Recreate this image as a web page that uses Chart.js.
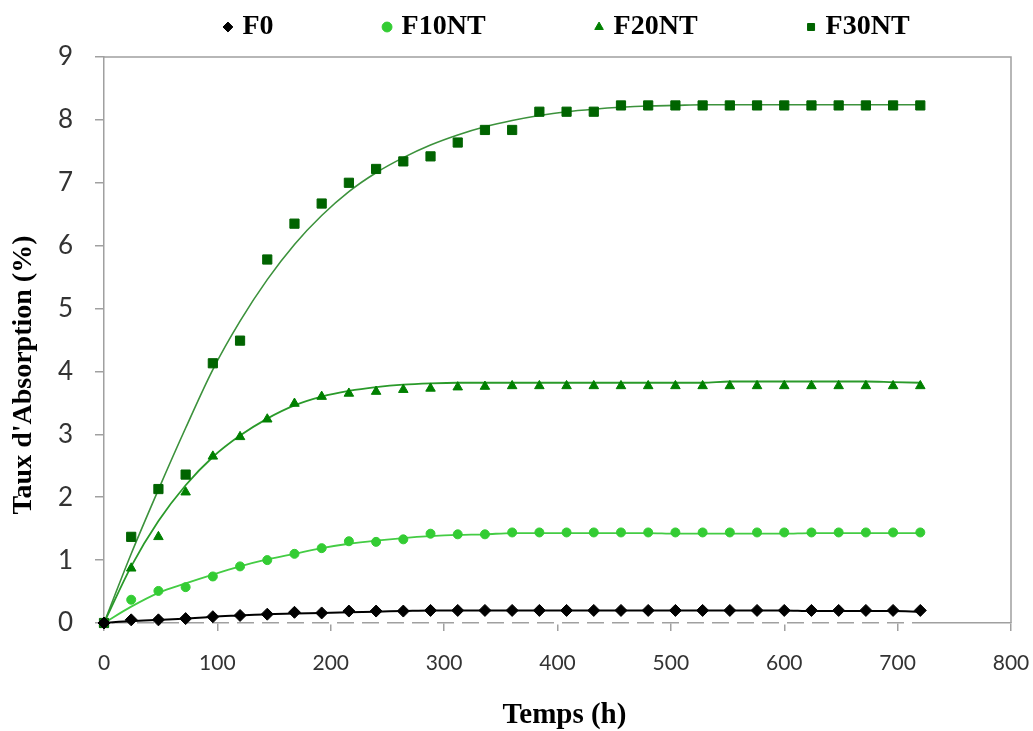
<!DOCTYPE html>
<html>
<head>
<meta charset="utf-8">
<script src="https://cdn.jsdelivr.net/npm/chart.js@4.4.1/dist/chart.umd.min.js"></script>
<style>
  html, body { margin: 0; padding: 0; background: #ffffff; }
  canvas { display: block; }
</style>
</head>
<body>
<canvas id="chart" width="1033" height="731"></canvas>
<script>
// ---- data ----
const hours = [0, 24, 48, 72, 96, 120, 144, 168, 192, 216, 240, 264, 288, 312, 336, 360,
               384, 408, 432, 456, 480, 504, 528, 552, 576, 600, 624, 648, 672, 696, 720];

const f0 = [0, 0.05, 0.05, 0.07, 0.10, 0.12, 0.14, 0.17, 0.16, 0.19, 0.19, 0.19, 0.20, 0.20, 0.20, 0.20,
            0.20, 0.20, 0.20, 0.20, 0.20, 0.20, 0.20, 0.20, 0.20, 0.20, 0.20, 0.20, 0.20, 0.20, 0.20];
const f10nt = [0, 0.37, 0.51, 0.57, 0.74, 0.90, 1.00, 1.10, 1.19, 1.30, 1.29, 1.33, 1.42, 1.41, 1.41, 1.44,
               1.44, 1.44, 1.44, 1.44, 1.44, 1.44, 1.44, 1.44, 1.44, 1.44, 1.44, 1.44, 1.44, 1.44, 1.44];
const f20nt = [0, 0.87, 1.37, 2.08, 2.65, 2.96, 3.24, 3.49, 3.60, 3.65, 3.68, 3.71, 3.73, 3.75, 3.76, 3.77,
               3.77, 3.77, 3.77, 3.77, 3.77, 3.77, 3.77, 3.77, 3.77, 3.77, 3.77, 3.77, 3.77, 3.77, 3.77];
const f30nt = [0, 1.37, 2.13, 2.36, 4.13, 4.49, 5.78, 6.35, 6.67, 7.00, 7.22, 7.34, 7.42, 7.64, 7.84, 7.84,
               8.13, 8.13, 8.13, 8.23, 8.23, 8.23, 8.23, 8.23, 8.23, 8.23, 8.23, 8.23, 8.23, 8.23, 8.23];

// trend curves as drawn in the picture
const f0Trend = [0, 0.03, 0.05, 0.07, 0.10, 0.12, 0.14, 0.15, 0.16, 0.17, 0.18, 0.19, 0.20, 0.20, 0.20, 0.20,
                 0.20, 0.20, 0.20, 0.20, 0.20, 0.20, 0.20, 0.20, 0.20, 0.20, 0.19, 0.19, 0.19, 0.19, 0.18];
const f10Trend = [0, 0.26, 0.48, 0.63, 0.77, 0.90, 1.01, 1.10, 1.19, 1.26, 1.31, 1.35, 1.38, 1.40, 1.41, 1.43,
                  1.43, 1.43, 1.43, 1.43, 1.43, 1.42, 1.42, 1.42, 1.42, 1.42, 1.43, 1.43, 1.43, 1.43, 1.43];
const f20Trend = [0, 0.90, 1.62, 2.19, 2.64, 2.98, 3.25, 3.46, 3.60, 3.69, 3.75, 3.79, 3.81, 3.82, 3.82, 3.82,
                  3.82, 3.82, 3.82, 3.82, 3.82, 3.82, 3.82, 3.84, 3.84, 3.84, 3.84, 3.84, 3.84, 3.83, 3.82];
const f30Trend = [0, 1.10, 2.12, 3.10, 4.03, 4.80, 5.46, 6.02, 6.48, 6.86, 7.16, 7.40, 7.60, 7.76, 7.89, 7.99,
                  8.07, 8.13, 8.17, 8.20, 8.22, 8.23, 8.24, 8.24, 8.24, 8.24, 8.24, 8.24, 8.24, 8.24, 8.24];

// dashed look of the horizontal axis under the data span
const baselineX = [0, 724];
const baselineY = [0, 0];

const seriesNames = ['F0', 'F10NT', 'F20NT', 'F30NT'];
const xTicks = [0, 100, 200, 300, 400, 500, 600, 700, 800];
const yTicks = [0, 1, 2, 3, 4, 5, 6, 7, 8, 9];

// ---- helpers ----
const pts = (xs, ys) => xs.map((x, i) => ({ x: x, y: ys[i] }));

const AXIS_GRAY = '#a0a0a0';

function markerSet(label, values, color, style, radius) {
  return {
    type: 'scatter', label: label, data: pts(hours, values),
    pointStyle: style, pointRadius: radius, pointHoverRadius: radius,
    backgroundColor: color, borderColor: color, borderWidth: 1,
    showLine: false, order: 1, clip: false
  };
}
function trendSet(label, values, color, width) {
  return {
    type: 'line', label: label, data: pts(hours, values),
    borderColor: color, borderWidth: width, pointRadius: 0, pointHoverRadius: 0,
    fill: false, cubicInterpolationMode: 'monotone', order: 2, clip: false
  };
}

const datasets = [
  markerSet(seriesNames[0], f0, '#000000', 'rectRot', 6),
  markerSet(seriesNames[1], f10nt, '#33cc33', 'circle', 4.5),
  markerSet(seriesNames[2], f20nt, '#008000', 'triangle', 5.5),
  markerSet(seriesNames[3], f30nt, '#006400', 'rect', 6.5),
  trendSet('F0 tendance', f0Trend, '#000000', 2),
  trendSet('F10NT tendance', f10Trend, '#44cc44', 1.8),
  trendSet('F20NT tendance', f20Trend, '#2a9a2a', 1.8),
  trendSet('F30NT tendance', f30Trend, '#3c923c', 1.6),
  {
    type: 'line', label: 'axe', data: pts(baselineX, baselineY),
    borderColor: '#ffffff', borderWidth: 3, borderDash: [8, 17], borderDashOffset: 0,
    pointRadius: 0, pointHoverRadius: 0, fill: false, order: 3, clip: false
  }
];

// ---- small layout plugin ----
const LEGEND_PAD = 113;
const LEGEND_FONT = 28;
const layoutTweaks = {
  id: 'layoutTweaks',
  afterLayout(chart) {
    const lg = chart.legend;
    if (lg) {
      const dx = 52;
      const textCenterY = 27;
      lg.left = lg.left + dx;
      lg.right = lg.right + dx;
      lg.top = textCenterY - LEGEND_PAD - LEGEND_FONT / 2;
    }
    const shiftTitle = (scale, dx, dy) => {
      if (!scale || scale._titleShifted) return;
      const orig = scale.drawTitle;
      scale.drawTitle = function () {
        const ctx = this.ctx;
        ctx.save();
        ctx.translate(dx, dy);
        orig.apply(this, arguments);
        ctx.restore();
      };
      scale._titleShifted = true;
    };
    shiftTitle(chart.scales.x, 7, 2);
    shiftTitle(chart.scales.y, 0, 35);
  },
  beforeDatasetsDraw(chart) {
    const { ctx, chartArea: a } = chart;
    ctx.save();
    ctx.strokeStyle = AXIS_GRAY;
    ctx.lineWidth = 1.5;
    ctx.beginPath();
    ctx.moveTo(a.left, a.top);
    ctx.lineTo(a.right, a.top);
    ctx.lineTo(a.right, a.bottom);
    ctx.stroke();
    ctx.restore();
  }
};

new Chart(document.getElementById('chart'), {
  data: { datasets: datasets },
  options: {
    responsive: false,
    animation: false,
    devicePixelRatio: 1,
    layout: { padding: { left: 0, right: 0, top: 0, bottom: 0 } },
    plugins: {
      tooltip: { enabled: false },
      legend: {
        display: true,
        position: 'top',
        maxHeight: 57,
        labels: {
          filter: (item) => item.datasetIndex < 4,
          usePointStyle: true,
          boxWidth: 1,
          boxHeight: 7,
          padding: LEGEND_PAD,
          color: '#000000',
          font: { family: 'Liberation Serif', size: LEGEND_FONT, weight: 'bold' }
        }
      }
    },
    scales: {
      x: {
        type: 'linear', min: xTicks[0], max: xTicks[xTicks.length - 1],
        afterBuildTicks: (s) => { s.ticks = xTicks.map(v => ({ value: v })); },
        ticks: { padding: 20, color: '#333333', font: { family: 'Lato', size: 21 } },
        grid: { display: true, drawOnChartArea: false, drawTicks: true, tickLength: 8, color: AXIS_GRAY, lineWidth: 1.5 },
        border: { display: true, color: AXIS_GRAY, width: 1.5 },
        title: { display: true, text: 'Temps (h)', color: '#000000',
                 font: { family: 'Liberation Serif', size: 29, weight: 'bold' }, padding: { top: 0, bottom: 0 } },
        afterFit: (s) => { s.height = 108; s.paddingRight = 22; s.paddingLeft = 0; }
      },
      y: {
        type: 'linear', min: yTicks[0], max: yTicks[yTicks.length - 1],
        afterBuildTicks: (s) => { s.ticks = yTicks.map(v => ({ value: v })); },
        ticks: { padding: 22, color: '#333333', font: { family: 'Lato', size: 26 } },
        grid: { display: true, drawOnChartArea: false, drawTicks: true, tickLength: 9, color: AXIS_GRAY, lineWidth: 1.5 },
        border: { display: true, color: AXIS_GRAY, width: 1.5 },
        title: { display: true, text: "Taux d'Absorption (%)", color: '#000000',
                 font: { family: 'Liberation Serif', size: 28, weight: 'bold' }, padding: { top: 7, bottom: 0 } },
        afterFit: (s) => { s.width = 104; }
      }
    }
  },
  plugins: [layoutTweaks]
});
</script>
</body>
</html>
